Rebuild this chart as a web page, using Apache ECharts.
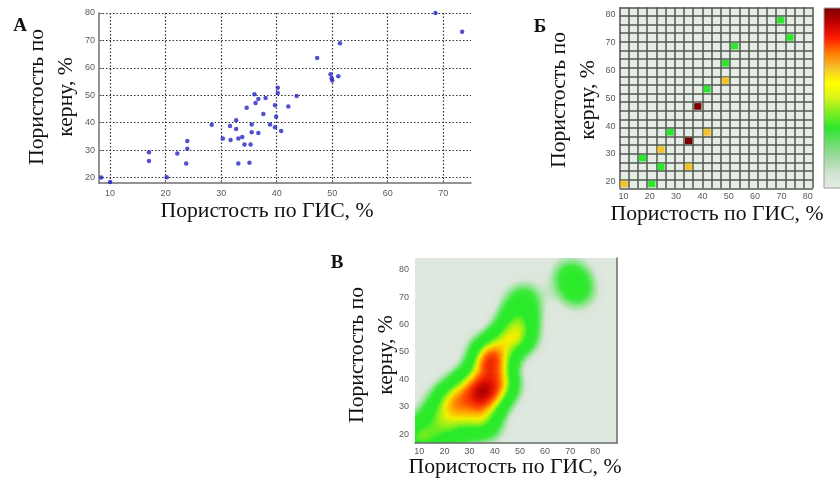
<!DOCTYPE html>
<html>
<head>
<meta charset="utf-8">
<title>Пористость по керну и по ГИС</title>
<script src="https://cdn.jsdelivr.net/npm/echarts@6.0.0/dist/echarts.min.js"></script>
<style>
  html, body { margin: 0; padding: 0; background: #ffffff; }
  #chart { width: 840px; height: 483px; }
</style>
</head>
<body>
<div id="chart"></div>
<script>
// А: точки, пористость по ГИС (x) и по керну (y), %
var gisPorosity = [8.4, 10.0, 17.0, 17.0, 20.2, 22.1, 23.7, 23.9, 23.9, 28.3, 30.3, 31.6, 31.7, 32.7, 32.7, 33.1,
  33.1, 33.8, 34.2, 34.6, 35.1, 35.3, 35.5, 35.5, 36.0, 36.2, 36.7, 36.7, 37.6, 38.0, 38.8, 39.7,
  39.7, 39.9, 40.2, 40.2, 40.8, 42.1, 43.6, 47.3, 49.7, 49.9, 50.0, 51.1, 51.4, 68.6, 73.4];
var corePorosity = [20.0, 18.4, 29.2, 26.0, 20.1, 28.8, 25.1, 33.3, 30.5, 39.2, 34.2, 38.8, 33.7, 40.9, 37.7, 25.1,
  34.2, 34.8, 32.0, 45.4, 25.4, 32.0, 39.3, 36.5, 50.4, 47.2, 48.6, 36.2, 43.2, 49.0, 39.3, 46.4,
  38.3, 42.2, 52.7, 50.8, 37.0, 45.9, 49.7, 63.6, 57.7, 56.2, 55.4, 56.9, 69.0, 80.0, 73.2];

// Б: заполненные ячейки сетки (по ГИС, по керну, уровень 1..3); В строится по ним же
var cellGis = [10, 21, 17, 24, 24, 28, 35, 35, 42, 38, 42, 49, 49, 52, 73, 70];
var cellCore = [19, 19, 28, 32, 25, 38, 25, 35, 38, 47, 53, 56, 63, 69, 72, 78];
var cellLevel = [2, 1, 1, 2, 1, 1, 2, 3, 2, 3, 1, 2, 1, 1, 1, 1];

// подписи делений
var gisTicksA = [10, 20, 30, 40, 50, 60, 70];
var gisTicks = [10, 20, 30, 40, 50, 60, 70, 80];
var coreTicks = [20, 30, 40, 50, 60, 70, 80];

// сетка Б
var binX = { min: 8.5, max: 82, step: 3.5 };
var binY = { min: 17.6, max: 82.7, step: 3.1 };

var cellColors = ['#e6ece6', '#cfe3cf', '#a3d9a3', '#6cdc6c', '#2ee62e', '#7aee22', '#d8f41a',
  '#ffff00', '#f5c32a', '#ff7a00', '#ff1a00', '#c00000', '#7a0000'];
// шаг 0.05 по накопленной плотности
var densityColors = ['#dfe8df', '#dae6da', '#90e490', '#3aea3a', '#2aea2a', '#2aea2a', '#2aea2a',
  '#8cf01a', '#f0f000', '#ffa800', '#ff5000', '#e81800', '#b00000', '#7a0000', '#6a0000',
  '#6a0000', '#6a0000', '#6a0000', '#6a0000', '#6a0000', '#6a0000'];

var serif = '"Liberation Serif", "DejaVu Serif", serif';
var sans = '"Liberation Sans", Arial, sans-serif';

var scatterData = gisPorosity.map(function (x, i) { return [x, corePorosity[i]]; });
var cellData = cellGis.map(function (x, i) { return [x, cellCore[i], cellLevel[i]]; });

// прямоугольник области В для geo
echarts.registerMap('plotbox', {
  type: 'FeatureCollection',
  features: [{
    type: 'Feature', properties: { name: 'box' },
    geometry: { type: 'Polygon', coordinates: [[[8.3, 16.8], [88.6, 16.8], [88.6, 84.3], [8.3, 84.3], [8.3, 16.8]]] }
  }]
});

function tickLabel(margin, values) {
  return { fontFamily: sans, fontSize: 9, color: '#5a5a5a', margin: margin, customValues: values };
}

function renderCell(params, api) {
  var x = api.value(0), y = api.value(1);
  var x0 = binX.min + Math.floor((x - binX.min) / binX.step) * binX.step;
  var y0 = binY.min + Math.floor((y - binY.min) / binY.step) * binY.step;
  var p0 = api.coord([x0, y0 + binY.step]);
  var p1 = api.coord([x0 + binX.step, y0]);
  return {
    type: 'rect',
    shape: { x: p0[0] + 1, y: p0[1] + 1, width: p1[0] - p0[0] - 2, height: p1[1] - p0[1] - 2 },
    style: { fill: api.visual('color') }
  };
}

function title(x, y, text, rotate) {
  return {
    type: 'text', x: x, y: y, rotation: rotate ? Math.PI / 2 : 0, silent: true,
    style: { text: text, font: '21.7px ' + serif, fill: '#111', textAlign: 'center', textVerticalAlign: 'middle', lineHeight: 29 }
  };
}
function letter(x, y, text) {
  return {
    type: 'text', x: x, y: y, silent: true,
    style: { text: text, font: 'bold 19px ' + serif, fill: '#111', textAlign: 'center', textVerticalAlign: 'middle' }
  };
}

// шкала цвета справа от Б (обрезана краем рисунка)
var barStops = cellColors.map(function (c, i) {
  return { offset: 1 - i / (cellColors.length - 1), color: c };
}).reverse();

var chart = echarts.init(document.getElementById('chart'), null, { renderer: 'canvas' });

var option = {
  backgroundColor: '#ffffff',
  animation: false,
  grid: [
    { left: 99, top: 13, width: 372, height: 170 },
    { left: 619.5, top: 7.3, width: 193.5, height: 181, show: true, backgroundColor: '#e6ede6', borderWidth: 0 },
    { left: 415, top: 258, width: 202, height: 185 }
  ],
  geo: {
    map: 'plotbox', roam: false, silent: true, z: 0,
    left: 415, top: 258, width: 202, height: 185,
    boundingCoords: [[8.3, 84.3], [88.6, 16.8]],
    label: { show: false },
    itemStyle: { areaColor: '#dfe8df', borderWidth: 0 },
    emphasis: { disabled: true }, select: { disabled: true }
  },
  xAxis: [
    { // А
      gridIndex: 0, type: 'value', min: 8, max: 75,
      axisLine: { lineStyle: { color: '#707070', width: 1.5 } },
      axisTick: { inside: true, length: 3, lineStyle: { color: '#707070' }, customValues: gisTicksA },
      axisLabel: tickLabel(6, gisTicksA),
      splitLine: { show: true, lineStyle: { color: '#333333', type: [1.5, 2], width: 1.2 } }
    },
    { // Б, подписи
      gridIndex: 1, type: 'value', min: binX.min, max: binX.max, splitNumber: 7,
      axisLine: { show: false }, axisTick: { show: false },
      axisLabel: tickLabel(4, gisTicks), splitLine: { show: false }
    },
    { // Б, линии сетки
      gridIndex: 1, type: 'value', min: binX.min, max: binX.max, interval: binX.step,
      axisLine: { show: false }, axisTick: { show: false }, axisLabel: { show: false },
      splitLine: { show: true, lineStyle: { color: '#4f574f', width: 1.5 } }
    },
    { // В
      gridIndex: 2, type: 'value', min: 8.3, max: 88.6, splitNumber: 8, z: 5,
      axisLine: { lineStyle: { color: '#6a6a6a', width: 1.5 } }, axisTick: { show: false },
      axisLabel: tickLabel(4, gisTicks), splitLine: { show: false }
    }
  ],
  yAxis: [
    {
      gridIndex: 0, type: 'value', min: 18, max: 80,
      axisLine: { show: true, lineStyle: { color: '#707070', width: 1.5 } },
      axisTick: { show: true, inside: true, length: 3, lineStyle: { color: '#707070' }, customValues: coreTicks },
      axisLabel: tickLabel(4, coreTicks),
      splitLine: { show: true, lineStyle: { color: '#333333', type: [1.5, 2], width: 1.2 } }
    },
    {
      gridIndex: 1, type: 'value', min: binY.min, max: binY.max,
      axisLine: { show: false }, axisTick: { show: false },
      axisLabel: tickLabel(4, coreTicks), splitLine: { show: false }
    },
    {
      gridIndex: 1, type: 'value', min: binY.min, max: binY.max, interval: binY.step,
      axisLine: { show: false }, axisTick: { show: false }, axisLabel: { show: false },
      splitLine: { show: true, lineStyle: { color: '#4f574f', width: 1.5 } }
    },
    {
      gridIndex: 2, type: 'value', min: 16.8, max: 84.3, z: 5,
      axisLine: { show: false }, axisTick: { show: false },
      axisLabel: tickLabel(6, coreTicks), splitLine: { show: false }
    },
    {
      gridIndex: 2, type: 'value', min: 16.8, max: 84.3, position: 'right', z: 5,
      axisLine: { show: true, lineStyle: { color: '#6a6a6a', width: 1.5 } },
      axisTick: { show: false }, axisLabel: { show: false }, splitLine: { show: false }
    }
  ],
  visualMap: [
    {
      type: 'continuous', seriesIndex: 1, dimension: 2, min: 0, max: 3, show: false,
      inRange: { color: cellColors }
    },
    {
      type: 'continuous', seriesIndex: 2, min: 0, max: 3, show: false,
      inRange: { color: densityColors }
    }
  ],
  series: [
    {
      type: 'scatter', xAxisIndex: 0, yAxisIndex: 0, data: scatterData,
      symbolSize: 4.5, itemStyle: { color: '#2424c8' }, silent: true
    },
    {
      type: 'custom', xAxisIndex: 1, yAxisIndex: 1, data: cellData,
      renderItem: renderCell, silent: true, encode: { x: 0, y: 1 }
    },
    {
      type: 'heatmap', coordinateSystem: 'geo', geoIndex: 0, data: cellData,
      pointSize: 14, blurSize: 26, minOpacity: 1, maxOpacity: 1, silent: true
    }
  ],
  graphic: [
    {
      type: 'rect', x: 824, y: 8, silent: true,
      shape: { width: 24, height: 180 },
      style: {
        fill: { type: 'linear', x: 0, y: 0, x2: 0, y2: 1, colorStops: barStops },
        stroke: '#9a9a9a', lineWidth: 1
      }
    },
    letter(20, 26, 'А'),
    title(52, 97, 'Пористость по\nкерну, %', true),
    title(267, 211, 'Пористость по ГИС, %'),
    letter(540, 27, 'Б'),
    title(574, 100, 'Пористость по\nкерну, %', true),
    title(717, 214, 'Пористость по ГИС, %'),
    letter(337, 263, 'В'),
    title(372, 355, 'Пористость по\nкерну, %', true),
    title(515, 467, 'Пористость по ГИС, %')
  ]
};

chart.setOption(option);
</script>
</body>
</html>
